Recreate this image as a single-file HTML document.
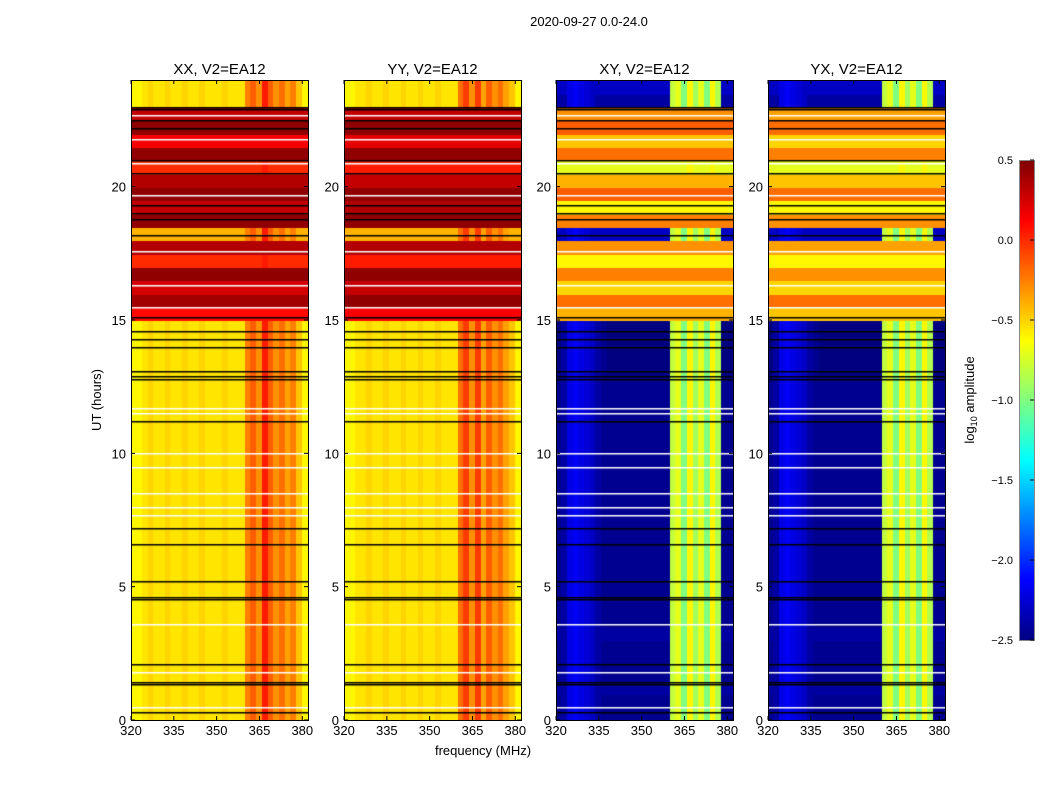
<!DOCTYPE html>
<html><head><meta charset="utf-8"><style>
body{margin:0;background:#fff;width:1050px;height:800px;overflow:hidden;position:relative;font-family:"Liberation Sans",sans-serif}
canvas{position:absolute}
svg{position:absolute;left:0;top:0}
</style></head><body>
<svg id="ov" width="1050" height="800"></svg>
<script>
// ---- data ----
const freqStart = 320, freqStep = 2, nFreq = 31;          // 320..382 MHz
const hourStep = 0.5;                                     // 48 bins over 24 h
const panelTitles = ["XX, V2=EA12","YY, V2=EA12","XY, V2=EA12","YX, V2=EA12"];
const xxTime = [-0.6,-0.6,-0.6,-0.6,-0.6,-0.6,-0.6,-0.6,-0.6,-0.6,-0.6,-0.6,-0.6,-0.6,-0.6,-0.6,-0.6,-0.6,-0.6,-0.6,-0.6,-0.6,-0.6,-0.6,-0.6,-0.6,-0.6,-0.6,-0.6,-0.6,
  0.1,0.4,0.25,0.45,0.0,0.35,-0.4,0.45,0.3,0.45,0.35,0.0,0.45,0.15,0.45,0.3,-0.6,-0.6];
const yyTime = [-0.6,-0.6,-0.6,-0.6,-0.6,-0.6,-0.6,-0.6,-0.6,-0.6,-0.6,-0.6,-0.6,-0.6,-0.6,-0.6,-0.6,-0.6,-0.6,-0.6,-0.6,-0.6,-0.6,-0.6,-0.6,-0.6,-0.6,-0.6,-0.6,-0.6,
  0.15,0.45,0.3,0.45,0.05,0.35,-0.4,0.45,0.35,0.45,0.3,0.05,0.45,0.2,0.45,0.3,-0.6,-0.6];
const xyTime = [-2.45,-2.45,-2.4,-2.45,-2.45,-2.45,-2.4,-2.45,-2.45,-2.45,-2.45,-2.45,-2.45,-2.45,-2.45,-2.45,-2.45,-2.45,-2.45,-2.45,-2.45,-2.45,-2.45,-2.45,-2.45,-2.45,-2.5,-2.5,-2.5,-2.5,
  -0.4,-0.2,-0.5,-0.25,-0.6,-0.3,-2.3,-0.25,-0.6,-0.15,-0.4,-0.7,-0.2,-0.45,-0.15,-0.3,-2.4,-2.3];
const yxTime = [-2.45,-2.45,-2.4,-2.45,-2.45,-2.45,-2.4,-2.45,-2.45,-2.45,-2.45,-2.45,-2.45,-2.45,-2.45,-2.45,-2.45,-2.45,-2.45,-2.45,-2.45,-2.45,-2.45,-2.45,-2.45,-2.45,-2.5,-2.5,-2.5,-2.5,
  -0.45,-0.2,-0.5,-0.3,-0.6,-0.35,-2.3,-0.3,-0.6,-0.2,-0.45,-0.7,-0.25,-0.5,-0.2,-0.35,-2.4,-2.3];
const xxFreq = [-0.75,-0.6,-0.55,-0.5,-0.55,-0.55,-0.5,-0.55,-0.55,-0.5,-0.55,-0.55,-0.5,-0.55,-0.55,-0.55,-0.5,-0.55,-0.55,-0.55,-0.25,-0.15,-0.3,0.05,-0.15,-0.3,-0.2,-0.35,-0.25,-0.45,-0.75];
const yyFreq = [-0.75,-0.6,-0.55,-0.55,-0.5,-0.55,-0.55,-0.5,-0.55,-0.55,-0.5,-0.55,-0.55,-0.5,-0.55,-0.55,-0.5,-0.55,-0.55,-0.55,-0.2,-0.05,-0.3,-0.05,-0.35,-0.15,-0.3,-0.2,-0.35,-0.45,-0.75];
const xyFreq = [-2.5,-2.4,-2.2,-2.15,-2.2,-2.25,-2.3,-2.4,-2.45,-2.5,-2.5,-2.5,-2.5,-2.5,-2.5,-2.5,-2.5,-2.5,-2.5,-2.5,-0.8,-0.7,-1.0,-0.6,-0.9,-0.7,-1.0,-0.6,-0.85,-2.5,-2.5];
const yxFreq = [-2.5,-2.4,-2.2,-2.15,-2.2,-2.25,-2.3,-2.4,-2.45,-2.5,-2.5,-2.5,-2.5,-2.5,-2.5,-2.5,-2.5,-2.5,-2.5,-2.5,-0.8,-0.7,-1.0,-0.6,-0.9,-0.7,-1.0,-0.6,-0.85,-2.5,-2.5];
const blackFlags = [0.3,1.35,1.42,2.1,4.55,4.62,5.2,6.6,7.2,11.2,12.8,12.9,13.1,14.0,14.3,14.6,15.1,18.2,18.8,19.0,19.3,20.5,21.0,22.2,22.5,22.9,23.0];
const whiteFlags = [0.5,1.8,3.6,7.7,8.0,8.5,9.5,10.0,11.5,11.7,15.5,16.3,17.6,19.7,20.9,21.8,22.7];
const xTicks = [320,335,350,365,380];
const yTicks = [0,5,10,15,20];
const cbTicks = [0.5,0.0,-0.5,-1.0,-1.5,-2.0,-2.5];
const vmin = -2.5, vmax = 0.5;

const panels = [
 {x:131,t:xxTime,f:xxFreq},{x:344,t:yyTime,f:yyFreq},{x:556,t:xyTime,f:xyFreq},{x:768,t:yxTime,f:yxFreq}];
const PW=177, PT=80, PH=640, fMax=382;

function jet(v){
  let x=(v-vmin)/(vmax-vmin); x=Math.max(0,Math.min(1,x));
  const c=t=>Math.round(255*Math.max(0,Math.min(1,t)));
  return `rgb(${c(1.5-Math.abs(4*x-3))},${c(1.5-Math.abs(4*x-2))},${c(1.5-Math.abs(4*x-1))})`;
}
const xScale=f=>(f-freqStart)/(fMax-freqStart)*PW;
const yScale=h=>PH-h/24*PH;

const ov=document.getElementById('ov');
const NS='http://www.w3.org/2000/svg';
function el(tag,attrs,txt){const e=document.createElementNS(NS,tag);for(const k in attrs)e.setAttribute(k,attrs[k]);if(txt!=null)e.textContent=txt;ov.appendChild(e);return e;}

panels.forEach((p,i)=>{
  const cv=document.createElement('canvas');
  cv.width=PW;cv.height=PH;cv.style.left=p.x+'px';cv.style.top=PT+'px';
  
  
  document.body.insertBefore(cv,ov);
  const g=cv.getContext('2d');
  for(let ti=0;ti<p.t.length;ti++){
    for(let fi=0;fi<p.f.length;fi++){
      g.fillStyle=jet(Math.max(p.t[ti],p.f[fi]));
      const x0=xScale(freqStart+fi*freqStep),x1=xScale(freqStart+(fi+1)*freqStep);
      const y0=yScale((ti+1)*hourStep),y1=yScale(ti*hourStep);
      g.fillRect(Math.floor(x0),Math.floor(y0),Math.ceil(x1-x0)+1,Math.ceil(y1-y0)+1);
    }
  }
  g.fillStyle='#000';
  blackFlags.forEach(h=>g.fillRect(0,Math.round(yScale(h)),PW,1.5));
  g.fillStyle='#fff';
  whiteFlags.forEach(h=>g.fillRect(0,Math.round(yScale(h)),PW,1.5));
  const fr=el('rect',{x:p.x+0.5,y:PT+0.5,width:PW,height:PH,fill:'none',stroke:'#000','stroke-width':1});
  
  
  const tt=el('text',{x:p.x+PW/2,y:74,'text-anchor':'middle','font-size':15},panelTitles[i]);
  
  
  xTicks.forEach(v=>{
    const x=p.x+xScale(v);
    el('line',{x1:x,x2:x,y1:PT+PH,y2:PT+PH-4,stroke:'#000'});
    el('line',{x1:x,x2:x,y1:PT,y2:PT+4,stroke:'#000'});
    const t=el('text',{x:x,y:735,'text-anchor':'middle','font-size':13},String(v));
    
    
  });
  yTicks.forEach(v=>{
    const y=PT+yScale(v);
    el('line',{x1:p.x,x2:p.x+4,y1:y,y2:y,stroke:'#000'});
    el('line',{x1:p.x+PW,x2:p.x+PW-4,y1:y,y2:y,stroke:'#000'});
    const t=el('text',{x:p.x-5,y:y+5,'text-anchor':'end','font-size':13},String(v));
    
    
  });
});

// colorbar
const cb=document.createElement('canvas');
cb.width=15;cb.height=480;cb.style.left='1019px';cb.style.top='160px';


document.body.insertBefore(cb,ov);
const cg=cb.getContext('2d');
for(let y=0;y<480;y++){cg.fillStyle=jet(vmax-(y/480)*(vmax-vmin));cg.fillRect(0,y,15,1);}
el('rect',{x:1019.5,y:160.5,width:15,height:480,fill:'none',stroke:'#888'});
cbTicks.forEach(v=>{
  const y=160+(vmax-v)/(vmax-vmin)*480;
  el('line',{x1:1034,x2:1030,y1:y,y2:y,stroke:'#000'});
  const t=el('text',{x:1013,y:y+4,'font-size':11,'text-anchor':'end'},v.toFixed(1).replace('-','\u2212'));
  
  
});
const cl=el('text',{x:0,y:0,'font-size':13,'text-anchor':'middle',transform:'translate(974,400) rotate(-90)'});


cl.innerHTML='log<tspan font-size="9" dy="3">10</tspan><tspan dy="-3"> amplitude</tspan>';

const st=el('text',{x:589,y:26,'text-anchor':'middle','font-size':13},'2020-09-27 0.0-24.0');


const yl=el('text',{x:0,y:0,'font-size':13,'text-anchor':'middle',transform:'translate(101,400) rotate(-90)'},'UT (hours)');


const xl=el('text',{x:483,y:755,'text-anchor':'middle','font-size':13},'frequency (MHz)');


</script>
</body></html>
